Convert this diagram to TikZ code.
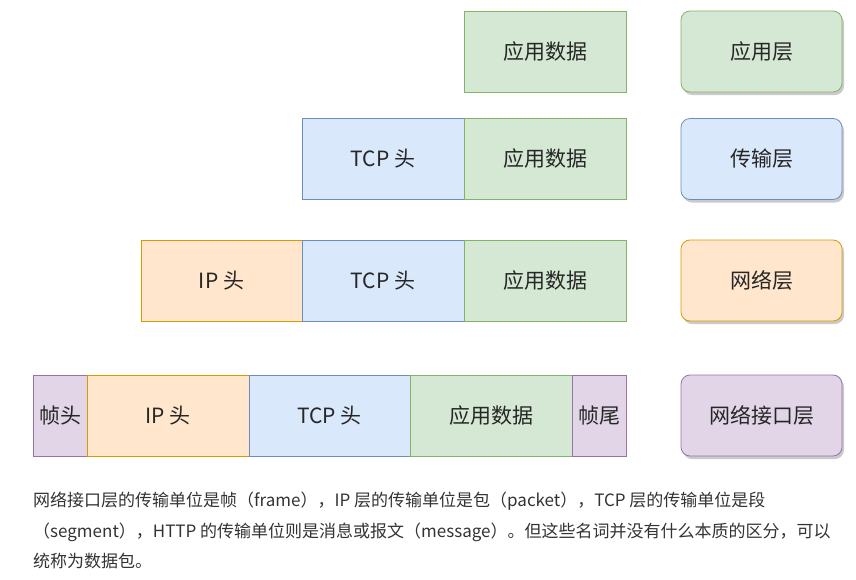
\documentclass[tikz,border=0pt]{standalone}
\usepackage{fontspec}
\setmainfont{Noto Sans CJK SC}
\usetikzlibrary{shadows}
\definecolor{gF}{HTML}{D5E8D4}\definecolor{gS}{HTML}{82B366}
\definecolor{bF}{HTML}{DAE8FC}\definecolor{bS}{HTML}{6C8EBF}
\definecolor{oF}{HTML}{FFE6CC}\definecolor{oS}{HTML}{D79B00}
\definecolor{pF}{HTML}{E1D5E7}\definecolor{pS}{HTML}{9673A6}
\begin{document}
\begin{tikzpicture}[x=1pt,y=-1pt,
  cell/.style={draw, line width=0.8pt, minimum height=81pt, inner sep=0pt, font=\fontsize{21}{24}\selectfont, text=black!85},
  grn/.style={cell, fill=gF, draw=gS},
  blu/.style={cell, fill=bF, draw=bS},
  org/.style={cell, fill=oF, draw=oS},
  pur/.style={cell, fill=pF, draw=pS},
  layer/.style={rounded corners=9pt, minimum width=161pt, drop shadow={shadow xshift=2pt, shadow yshift=-3pt, opacity=0.35, fill=black!60}}]
\useasboundingbox (0,0) rectangle (856,579);
% row 1
\node[grn, minimum width=162pt] (a1) at (545,51.5) {应用数据};
\node[grn, layer] (l1) at (761.5,51.5) {应用层};
% row 2
\node[blu, minimum width=162pt] (t2) at (383,159) {TCP 头};
\node[grn, minimum width=162pt] (a2) at (545,159) {应用数据};
\node[blu, layer] (l2) at (761.5,159) {传输层};
% row 3
\node[org, minimum width=161pt] (i3) at (221.5,280.5) {IP 头};
\node[blu, minimum width=162pt] (t3) at (383,280.5) {TCP 头};
\node[grn, minimum width=162pt] (a3) at (545,280.5) {应用数据};
\node[org, layer] (l3) at (761.5,280.5) {网络层};
% row 4
\node[pur, minimum width=54pt] (f4) at (60,415.5) {帧头};
\node[org, minimum width=162pt] (i4) at (168,415.5) {IP 头};
\node[blu, minimum width=161pt] (t4) at (329.5,415.5) {TCP 头};
\node[grn, minimum width=162pt] (a4) at (491,415.5) {应用数据};
\node[pur, minimum width=54pt] (e4) at (599,415.5) {帧尾};
\node[pur, layer] (l4) at (761.5,415.5) {网络接口层};
% caption
\node[anchor=north west, align=left, inner sep=0pt, font=\fontsize{17}{30.5}\selectfont, text=black!80] (cap) at (33,492)
{网络接口层的传输单位是帧（frame），IP 层的传输单位是包（packet），TCP 层的传输单位是段\\
（segment），HTTP 的传输单位则是消息或报文（message）。但这些名词并没有什么本质的区分，可以\\
统称为数据包。};
\end{tikzpicture}
\end{document}
